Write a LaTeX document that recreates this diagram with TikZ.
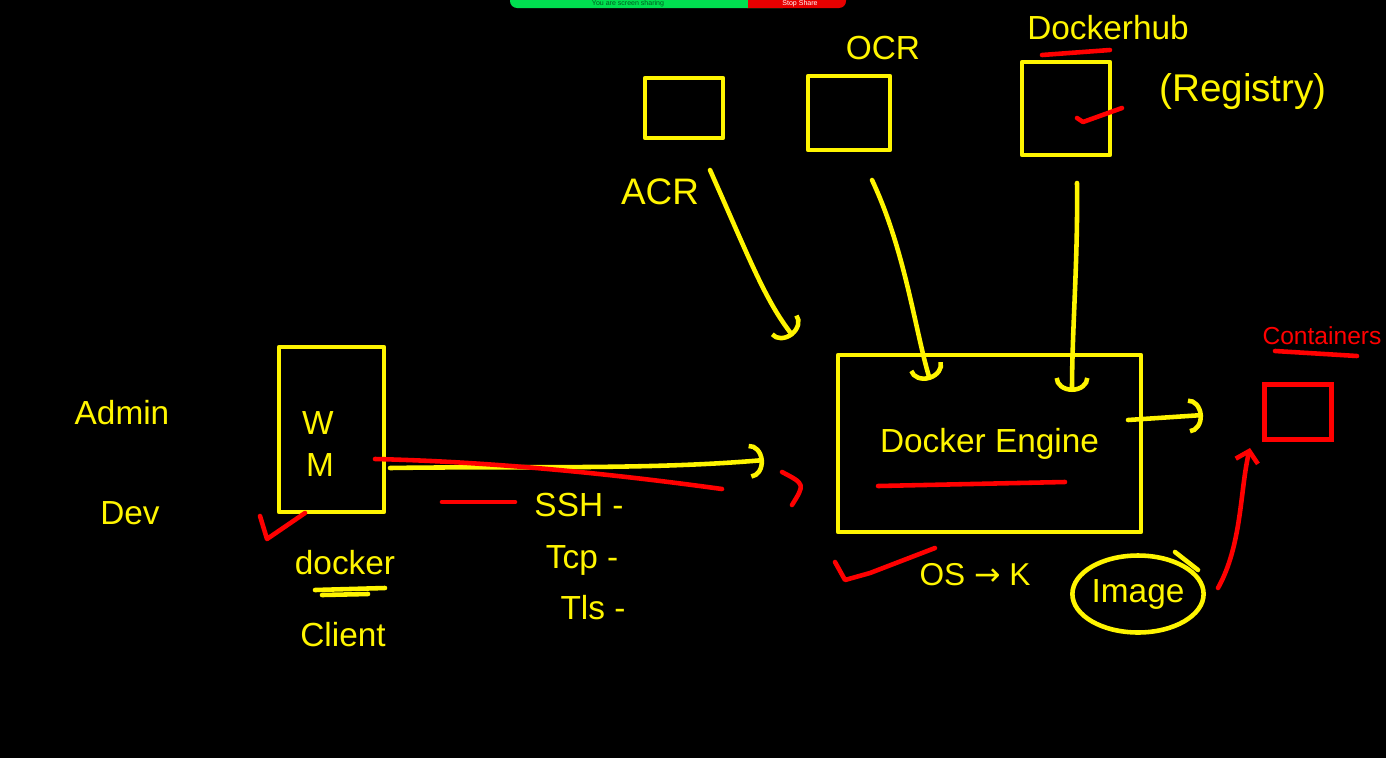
\documentclass[tikz,border=0pt]{standalone}
\usepackage{fontspec}
\setmainfont{Liberation Sans}
\newfontfamily\arrowfont{DejaVu Sans}
\usetikzlibrary{arrows.meta,shapes.geometric,positioning}
\definecolor{penyellow}{RGB}{255,245,0}
\definecolor{penred}{RGB}{255,0,0}
\definecolor{sharegreen}{RGB}{0,224,80}
\definecolor{sharered}{RGB}{232,0,0}
\tikzset{
  yline/.style={draw=penyellow, line width=2.6pt, line cap=round, line join=round},
  rline/.style={draw=penred, line width=2.6pt, line cap=round, line join=round},
  ybox/.style={yline, rectangle, inner sep=0pt},
  ytext/.style={text=penyellow, font=\fontsize{19}{22}\selectfont, inner sep=0pt},
  rtext/.style={text=penred, font=\fontsize{14}{16}\selectfont, inner sep=0pt},
  pentip/.style={-{Arc Barb[length=8pt, width=20pt]}},
  redtip/.style={-{Straight Barb[length=6pt, width=13pt]}}
}

\begin{document}
\begin{tikzpicture}[x=0.02cm, y=-0.02cm]
  % Define the screen
  \clip (0,0) rectangle (1386,758);
  \fill[black] (0,0) rectangle (1386,758);

  % Define the screen sharing bar
  \fill[sharegreen, rounded corners=4pt] (510,-20) rectangle (790,8);
  \fill[sharered, rounded corners=4pt] (740,-20) rectangle (846,8);
  \fill[sharegreen] (740,-20) rectangle (748,8);
  \node[text=black!60!sharegreen, font=\fontsize{4}{5}\selectfont, inner sep=0pt] (sharing) at (628,3.5) {You are screen sharing};
  \node[text=white, font=\fontsize{4}{5}\selectfont, inner sep=0pt] (stopshare) at (800,3.5) {Stop Share};

  % Define the registries
  \node[ybox, minimum width=1.56cm, minimum height=1.2cm] (acr) at (684,108) {};
  \node[ybox, minimum width=1.64cm, minimum height=1.48cm] (ocr) at (849,113) {};
  \node[ybox, minimum width=1.76cm, minimum height=1.86cm] (hub) at (1066,108.5) {};
  \node[ytext, font=\fontsize{21}{24}\selectfont] (acrname) at (660,192) {ACR};
  \node[ytext] (ocrname) at (883,48) {OCR};
  \node[ytext] (hubname) at (1108,28) {Dockerhub};
  \node[ytext, font=\fontsize{22}{26}\selectfont] (registry) at (1243,92) {(Registry)};
  \draw[rline] (1042,55) -- (1110,50);
  \draw[rline] (1077,118) -- (1083,122) -- (1122,108);

  % Define the docker engine
  \node[ybox, minimum width=6.06cm, minimum height=3.54cm, text=penyellow,
        font=\fontsize{19}{22}\selectfont] (engine) at (989.5,443.5) {Docker Engine};
  \draw[rline] (878,486) -- (1065,482);
  \node[ytext, font=\fontsize{18}{22}\selectfont] (oskernel) at (975,575) {OS {\arrowfont →} K};
  \draw[rline] (835,562) -- (845,580) -- (870,573) -- (935,548);

  % Define the containers and the image
  \node[draw=penred, line width=2.6pt, minimum width=1.34cm, minimum height=1.1cm] (cont) at (1298,412) {};
  \node[rtext] (contname) at (1322,336) {Containers};
  \draw[rline] (1275,351) -- (1357,356);
  \node[ellipse, yline, minimum width=2.46cm, minimum height=1.54cm, inner sep=0pt,
        text=penyellow, font=\fontsize{19}{22}\selectfont] (image) at (1138,594) {Image};
  \draw[yline] (1175,552) -- (1198,570);

  % Define the client side
  \node[ybox, minimum width=2.1cm, minimum height=3.3cm] (vm) at (331.5,429.5) {};
  \node[ytext] (vmw) at (318,423) {W};
  \node[ytext] (vmm) at (320,465) {M};
  \node[ytext] (admin) at (122,413) {Admin};
  \node[ytext] (dev) at (130,513) {Dev};
  \node[ytext] (docker) at (345,563) {docker};
  \node[ytext] (client) at (343,635) {Client};
  \draw[yline] (315,590) -- (385,588);
  \draw[yline] (322,595) -- (368,594);
  \draw[rline] (260,516) -- (267,539) -- (305,513);

  % Define the protocols
  \foreach \proto/\xx/\yy in {SSH/579/505, Tcp/582/560, Tls/593/608}
    \node[ytext] (\proto) at (\xx,\yy) {\proto\ -};
  \draw[rline] (442,502) -- (515,502);

  % Define the connector ends
  \coordinate (acrtail) at (710,170);
  \coordinate (acrhead) at (793,336);
  \coordinate (ocrtail) at (872,180);
  \coordinate (ocrhead) at (930,380);
  \coordinate (hubtail) at (1077,183);
  \coordinate (hubhead) at (1072,392);
  \coordinate (vmtail) at (390,468);
  \coordinate (vmhead) at (764,460);
  \coordinate (redtail) at (375,459);
  \coordinate (redend) at (722,489);
  \coordinate (engtail) at (1128,420);
  \coordinate (enghead) at (1203,415);
  \coordinate (imgtail) at (1218,588);
  \coordinate (conthead) at (1250,448);

  % Draw the connectors
  \draw[yline, pentip] (acrtail) .. controls (750,260) and (765,300) .. (acrhead);
  \draw[yline, pentip] (ocrtail) .. controls (905,250) and (915,330) .. (ocrhead);
  \draw[yline, pentip] (hubtail) .. controls (1078,260) and (1072,330) .. (hubhead);
  \draw[yline, pentip] (vmtail) .. controls (520,466) and (650,470) .. (vmhead);
  \draw[rline] (redtail) .. controls (500,462) and (620,475) .. (redend);
  \draw[rline] (782,472) .. controls (805,484) .. (792,505);
  \draw[yline, pentip] (engtail) -- (enghead);
  \draw[rline, redtip] (imgtail) .. controls (1242,545) and (1240,490) .. (conthead);
\end{tikzpicture}
\end{document}
